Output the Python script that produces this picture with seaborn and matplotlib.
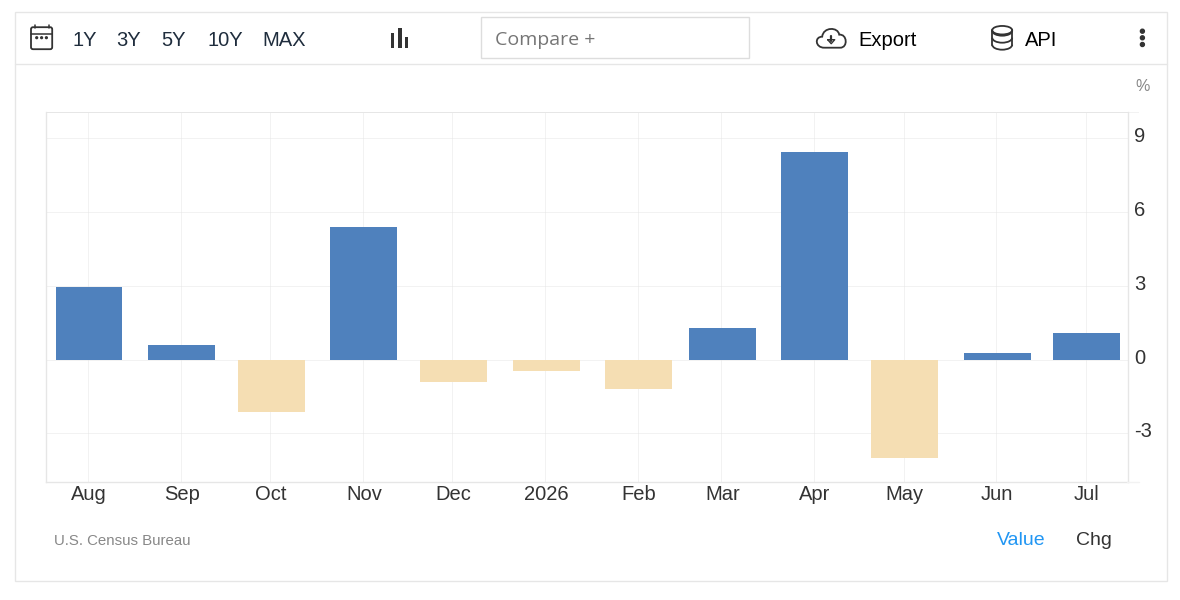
import matplotlib
matplotlib.use("Agg")
import matplotlib.dates as mdates
import matplotlib.pyplot as plt
import matplotlib.transforms as mtrans
from matplotlib.patches import Arc, Circle, Ellipse, FancyBboxPatch, PathPatch, Rectangle
from matplotlib.path import Path
import pandas as pd
import seaborn as sns

months = ["2025-08-01", "2025-09-01", "2025-10-01", "2025-11-01", "2025-12-01", "2026-01-01",
          "2026-02-01", "2026-03-01", "2026-04-01", "2026-05-01", "2026-06-01", "2026-07-01"]
month_labels = ["Aug", "Sep", "Oct", "Nov", "Dec", "2026", "Feb", "Mar", "Apr", "May", "Jun", "Jul"]
values = [2.95, 0.6, -2.13, 5.4, -0.9, -0.45, -1.2, 1.3, 8.45, -4.0, 0.28, 1.1]
y_ticks = [-3, 0, 3, 6, 9]
range_buttons = ["1Y", "3Y", "5Y", "10Y", "MAX"]

BLUE = "#4F81BD"
WHEAT = "#F5DEB3"
LINE = "#E6E6E6"
DARK = "#333333"

sns.set_style("white")
plt.rcParams["font.family"] = ["Liberation Sans", "DejaVu Sans"]

dates = mdates.date2num(pd.to_datetime(months))
df = pd.DataFrame({"date": dates, "value": values})
df["sign"] = ["up" if v >= 0 else "down" for v in values]

fig = plt.figure(figsize=(11.8, 6), dpi=100)

# chart area sits at 46..1128 x 112..482 in screen pixels
ax = fig.add_axes([46 / 1180, 118 / 600, 1082 / 1180, 370 / 600])
sns.barplot(data=df, x="date", y="value", hue="sign", palette={"up": BLUE, "down": WHEAT},
            native_scale=True, dodge=False, width=0.8, saturation=1, linewidth=0,
            legend=False, ax=ax)

ax.set_xlim(dates[0] - 14.4, dates[0] + 347.8)
ax.set_ylim(-4.98, 10.07)
ax.set_xticks(dates)
ax.set_xticklabels(month_labels, fontsize=14.5, color=DARK)
ax.set_yticks(y_ticks)
ax.set_yticklabels([str(t) for t in y_ticks], fontsize=14.5, color=DARK)
ax.yaxis.tick_right()
ax.tick_params(axis="both", length=0)
ax.tick_params(axis="x", pad=2)
ax.tick_params(axis="y", pad=4.5)
ax.set_xlabel("")
ax.set_ylabel("")
ax.set_axisbelow(True)
ax.grid(True, color=LINE, linestyle=(0, (1, 1)), linewidth=0.72)

# labels on the right ride a little above their gridlines
shift = mtrans.ScaledTranslation(0, 2.4 / 72, fig.dpi_scale_trans)
for lab in ax.get_yticklabels():
    lab.set_transform(lab.get_transform() + shift)

# month gridlines sit a pixel left of the bar centres
grid_shift = mtrans.ScaledTranslation(-1 / 100, 0, fig.dpi_scale_trans)
for gl in ax.get_xgridlines():
    gl.set_transform(gl.get_transform() + grid_shift)

for side in ["left", "right", "bottom"]:
    ax.spines[side].set_color(LINE)
    ax.spines[side].set_linewidth(1)
ax.spines["top"].set_color(LINE)
ax.spines["top"].set_linestyle((0, (1, 1)))
ax.spines["top"].set_linewidth(0.72)

# page furniture in pixel coordinates
ui = fig.add_axes([0, 0, 1, 1], facecolor="none")
ui.set_xlim(0.8, 1180.8)
ui.set_ylim(600.8, 0.8)
ui.axis("off")

ui.add_patch(Rectangle((15.5, 12.5), 1152, 569, fill=False, edgecolor=LINE, linewidth=1))
ui.plot([15.5, 1167.5], [64.5, 64.5], color=LINE, linewidth=1)
ui.plot([1128, 1140], [112.8, 112.8], color=LINE, linewidth=0.72, linestyle=(0, (1, 1)))
ui.plot([1128, 1140], [482.8, 482.8], color="#F2F2F2", linewidth=1)

# calendar icon
ui.add_patch(FancyBboxPatch((31.8, 28), 21.2, 22, boxstyle="round,pad=0,rounding_size=2",
                            fill=False, edgecolor=DARK, linewidth=1.3))
ui.plot([31.8, 53], [34.5, 34.5], color=DARK, linewidth=1.1)
for x in [35.5, 49.5]:
    ui.plot([x, x], [26, 29], color=DARK, linewidth=1.1)
for x in [37.5, 42.4, 47.2]:
    ui.add_patch(Circle((x, 38.5), 0.9, color=DARK))

for label, x in zip(range_buttons, [85.3, 129.8, 174.8, 225.8, 285.3]):
    ui.text(x, 41.6, label, ha="center", va="center", fontsize=14.5, color="#1F2D3D")

# bars icon
for x, y0 in zip([391.8, 399.1, 405.8], [33.5, 28.5, 38]):
    ui.add_patch(Rectangle((x, y0), 3.2, 48.5 - y0, color=DARK, linewidth=0))

# compare box
ui.add_patch(Rectangle((481.5, 17.5), 268, 41, facecolor="white", edgecolor="#DDDDDD", linewidth=1))
ui.text(495.8, 41, "Compare +", ha="left", va="center", fontsize=14, color="#757575",
        family=["Open Sans", "DejaVu Sans"])

# cloud icon
cloud = Path([(825, 48.5), (816, 48.5), (815, 37.5), (823, 37.5), (824, 27.5), (839, 27.5), (840, 35.5),
              (848, 34.5), (849, 48.5), (841, 48.5), (825, 48.5)],
             [Path.MOVETO, Path.CURVE4, Path.CURVE4, Path.CURVE4, Path.CURVE4, Path.CURVE4,
              Path.CURVE4, Path.CURVE4, Path.CURVE4, Path.LINETO, Path.LINETO])
ui.add_patch(PathPatch(cloud, fill=False, edgecolor=DARK, linewidth=1.3))
ui.plot([832, 832], [36.5, 41.5], color=DARK, linewidth=1.6)
ui.plot([828.5, 832, 835.5, 828.5], [40.5, 44.5, 40.5, 40.5], color=DARK, linewidth=1)
ui.text(858.8, 41.6, "Export", ha="left", va="center", fontsize=14.5, color="black")

# database icon
ui.add_patch(Ellipse((1003, 31), 20, 8.5, fill=False, edgecolor=DARK, linewidth=1.3))
for y in [31.5, 38.5, 45.5]:
    ui.add_patch(Arc((1003, y), 20, 10, theta1=0, theta2=180, edgecolor=DARK, linewidth=1.3))
ui.plot([993, 993], [31, 45.5], color=DARK, linewidth=1.3)
ui.plot([1013, 1013], [31, 45.5], color=DARK, linewidth=1.3)
ui.text(1025.8, 41.6, "API", ha="left", va="center", fontsize=14.5, color="black")

# kebab menu
for y in [32, 38.6, 45.3]:
    ui.add_patch(Circle((1143.2, y), 2, color=DARK))

ui.text(1143.4, 87.8, "%", ha="center", va="center", fontsize=11.5, color="#888888")
ui.text(54.6, 541.5, "U.S. Census Bureau", ha="left", va="center", fontsize=10.8, color="#888888")
ui.text(1022.2, 541.8, "Value", ha="center", va="center", fontsize=14, color="#2196F3")
ui.text(1095, 541.8, "Chg", ha="center", va="center", fontsize=14, color=DARK)

fig.savefig("out.png", dpi=100)
